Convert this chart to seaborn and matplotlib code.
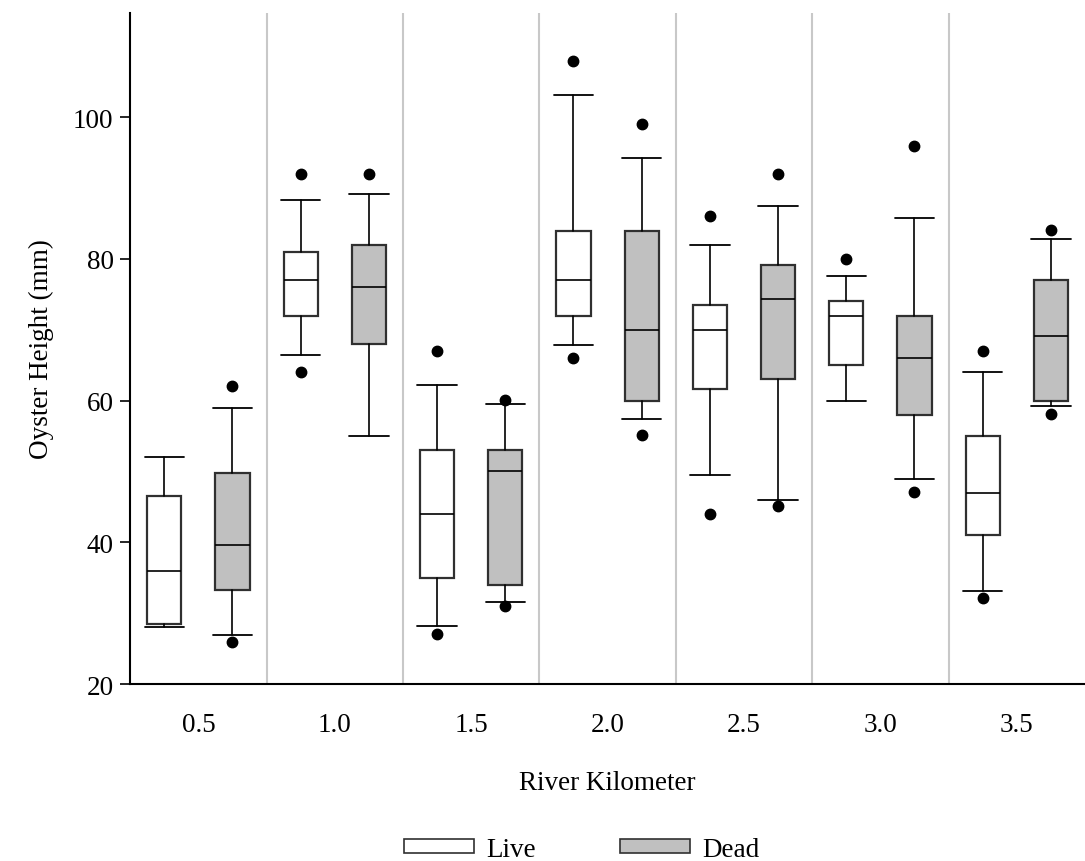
import numpy as np
import seaborn as sns
import matplotlib.pyplot as plt
from matplotlib.patches import Patch

sns.set_theme(style='ticks')
plt.rcParams['font.family'] = ['Liberation Serif', 'DejaVu Serif']
plt.rcParams['text.color'] = 'black'
plt.rcParams['axes.labelcolor'] = 'black'
plt.rcParams['xtick.color'] = 'black'
plt.rcParams['ytick.color'] = 'black'

categories = ['0.5', '1.0', '1.5', '2.0', '2.5', '3.0', '3.5']

# Live oysters: box statistics
live_whislo = [28.0, 66.4, 28.2, 67.8, 49.5, 60.0, 33.2]
live_q1     = [28.5, 72.0, 35.0, 72.0, 61.7, 65.0, 41.0]
live_med    = [36.0, 77.0, 44.0, 77.0, 70.0, 72.0, 46.9]
live_q3     = [46.5, 81.0, 53.0, 84.0, 73.5, 74.0, 55.0]
live_whishi = [52.0, 88.3, 62.2, 103.2, 82.0, 77.6, 64.0]
live_out_lo = [np.nan, 64.0, 27.1, 66.0, 44.0, np.nan, 32.1]
live_out_hi = [np.nan, 92.0, 67.0, 108.0, 86.0, 80.0, 67.0]

# Dead oysters
dead_whislo = [26.9, 55.0, 31.6, 57.4, 46.0, 48.9, 59.3]
dead_q1     = [33.3, 68.0, 34.0, 60.0, 63.0, 58.0, 60.0]
dead_med    = [39.6, 76.0, 50.1, 70.0, 74.4, 66.0, 69.1]
dead_q3     = [49.8, 82.0, 53.0, 84.0, 79.2, 72.0, 77.0]
dead_whishi = [59.0, 89.1, 59.5, 94.2, 87.5, 85.8, 82.8]
dead_out_lo = [26.0, np.nan, 31.0, 55.1, 45.1, 47.1, 58.1]
dead_out_hi = [62.0, 92.0, 60.1, 99.1, 92.0, 96.0, 84.1]


def make_stats(lo, q1, med, q3, hi, olo, ohi):
    stats = []
    for i in range(len(categories)):
        fl = [v for v in (olo[i], ohi[i]) if not np.isnan(v)]
        stats.append(dict(whislo=lo[i], q1=q1[i], med=med[i], q3=q3[i],
                          whishi=hi[i], fliers=np.array(fl)))
    return stats


live_stats = make_stats(live_whislo, live_q1, live_med, live_q3, live_whishi,
                        live_out_lo, live_out_hi)
dead_stats = make_stats(dead_whislo, dead_q1, dead_med, dead_q3, dead_whishi,
                        dead_out_lo, dead_out_hi)

fig = plt.figure(figsize=(10.85, 8.62), dpi=100)
ax = fig.add_axes([0.12, 0.2053, 0.88, 0.7784])

x = np.arange(len(categories))
common = dict(widths=0.25, capwidths=0.29, patch_artist=True, manage_ticks=False,
              whiskerprops=dict(color='black', lw=1.2),
              capprops=dict(color='black', lw=1.3),
              medianprops=dict(color='black', lw=1.2),
              flierprops=dict(marker='o', markerfacecolor='black',
                              markeredgecolor='black', markersize=7.5))
ax.bxp(live_stats, positions=x - 0.25,
       boxprops=dict(facecolor='white', edgecolor='#303030', lw=1.6), **common)
ax.bxp(dead_stats, positions=x + 0.25,
       boxprops=dict(facecolor='#c0c0c0', edgecolor='#303030', lw=1.6), **common)

# separators between river kilometers
for b in np.arange(0.5, len(categories) - 0.5, 1):
    ax.axvline(b, color='#c8c8c8', lw=1.5, zorder=0)

ax.set_xlim(-0.5, len(categories) - 0.5)
ax.set_ylim(20, 114.7)
ax.set_xticks(x)
ax.set_xticklabels(categories)
ax.set_yticks([20, 40, 60, 80, 100])
ax.tick_params(axis='x', length=0, pad=20, labelsize=19.5)
ax.tick_params(axis='y', direction='out', length=7, width=1.2, labelsize=19.5, pad=5)
ax.set_xlabel('River Kilometer', fontsize=19.5, labelpad=24)
ax.set_ylabel('Oyster Height (mm)', fontsize=19.5, labelpad=14)
sns.despine(ax=ax)
for s in ('left', 'bottom'):
    ax.spines[s].set_linewidth(1.5)
    ax.spines[s].set_color('black')

handles = [Patch(facecolor='white', edgecolor='#303030', lw=1.2, label='Live'),
           Patch(facecolor='#c0c0c0', edgecolor='#303030', lw=1.2, label='Dead')]
fig.legend(handles=handles, loc='lower center', bbox_to_anchor=(0.536, -0.029),
           ncol=2, frameon=False, fontsize=19.5, handlelength=2.6, handleheight=0.4,
           columnspacing=3.1, handletextpad=0.45)

fig.savefig('out.png', dpi=100)
